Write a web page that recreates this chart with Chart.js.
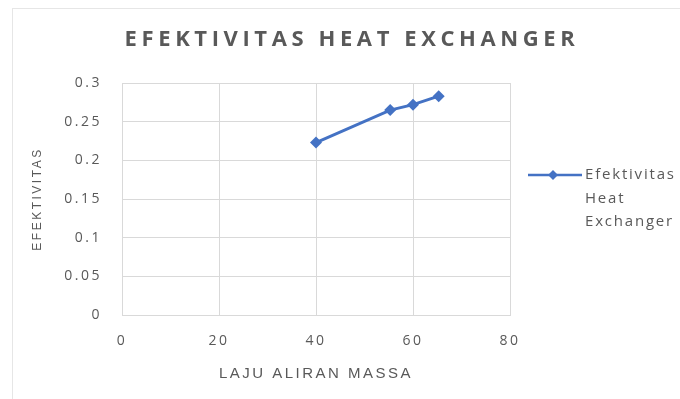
<!DOCTYPE html>
<html>
<head>
<meta charset="utf-8">
<script src="https://cdn.jsdelivr.net/npm/chart.js@4/dist/chart.umd.min.js"></script>
<style>
  html, body { margin: 0; padding: 0; background: #ffffff; }
  #wrap { width: 680px; height: 399px; position: relative; }
</style>
</head>
<body>
<div id="wrap"><canvas id="chart" width="680" height="399"></canvas></div>
<script>
// Mass flow rate vs. heat exchanger effectiveness
const chartTitle = 'EFEKTIVITAS HEAT EXCHANGER';
const seriesLabel = 'Efektivitas Heat Exchanger';
const xTitle = 'LAJU ALIRAN MASSA';
const yTitle = 'EFEKTIVITAS';

const massFlow = [40, 55.3, 60, 65.3];
const effectiveness = [0.223, 0.265, 0.272, 0.283];

const xTickLabels = ['0', '20', '40', '60', '80'];
const yTickLabels = ['0', '0.05', '0.1', '0.15', '0.2', '0.25', '0.3'];

const TEXT = '#595959';
const GRID = '#d9d9d9';
const LINE = '#4472C4';
const FONT = '"Open Sans", "Liberation Sans", sans-serif';

// Outer frame, spaced title and a wrapped legend entry on the right
const decorations = {
  id: 'decorations',
  beforeDraw(chart) {
    const ctx = chart.ctx;
    ctx.save();
    ctx.strokeStyle = '#e6e6e6';
    ctx.lineWidth = 1;
    ctx.strokeRect(12.5, 8.5, 720, 450);
    ctx.restore();
    // wide tracking for axis text
    if ('letterSpacing' in ctx) ctx.letterSpacing = '2.5px';
  },
  afterDraw(chart) {
    const ctx = chart.ctx;
    ctx.save();
    // title
    ctx.font = 'bold 22px ' + FONT;
    ctx.fillStyle = TEXT;
    ctx.textBaseline = 'middle';
    ctx.textAlign = 'center';
    if ('letterSpacing' in ctx) ctx.letterSpacing = '4.6px';
    ctx.fillText(chartTitle, 352, 40);

    // legend
    const ds = chart.data.datasets[0];
    const ly = 175;
    ctx.strokeStyle = ds.borderColor;
    ctx.lineWidth = 2.5;
    ctx.beginPath();
    ctx.moveTo(528, ly);
    ctx.lineTo(582, ly);
    ctx.stroke();
    ctx.fillStyle = ds.borderColor;
    ctx.beginPath();
    ctx.moveTo(553, ly - 5);
    ctx.lineTo(558, ly);
    ctx.lineTo(553, ly + 5);
    ctx.lineTo(548, ly);
    ctx.closePath();
    ctx.fill();
    ctx.font = '15px ' + FONT;
    ctx.fillStyle = TEXT;
    ctx.textAlign = 'left';
    ctx.textBaseline = 'middle';
    if ('letterSpacing' in ctx) ctx.letterSpacing = '1.8px';
    const words = ds.label.split(' ');
    words.forEach((w, i) => ctx.fillText(w, 585, ly + i * 23.5));
    ctx.restore();
  }
};

new Chart(document.getElementById('chart'), {
  type: 'scatter',
  data: {
    datasets: [{
      label: seriesLabel,
      data: massFlow.map((x, i) => ({ x: x, y: effectiveness[i] })),
      showLine: true,
      borderColor: LINE,
      backgroundColor: LINE,
      borderWidth: 3,
      pointStyle: 'rectRot',
      pointRadius: 6,
      pointHoverRadius: 6,
      pointBorderWidth: 0
    }]
  },
  options: {
    responsive: false,
    animation: false,
    devicePixelRatio: 1,
    layout: { padding: { top: 83, right: 170, bottom: 10, left: 14 } },
    plugins: {
      legend: { display: false },
      title: { display: false },
      tooltip: { enabled: false }
    },
    scales: {
      x: {
        type: 'linear',
        min: 0,
        max: 80,
        afterFit(scale) { scale.height = 74; },
        afterBuildTicks(scale) {
          scale.ticks = xTickLabels.map(v => ({ value: Number(v) }));
        },
        ticks: {
          color: TEXT,
          font: { family: FONT, size: 14 },
          padding: 18,
          maxRotation: 0,
          callback: (v, i) => xTickLabels[i]
        },
        grid: { color: GRID, lineWidth: 1, drawTicks: false },
        border: { color: GRID, width: 1 },
        title: {
          display: true,
          text: xTitle,
          color: TEXT,
          font: { family: '"Liberation Sans", sans-serif', size: 15 },
          padding: { top: 0, bottom: 6 }
        }
      },
      y: {
        type: 'linear',
        min: 0,
        max: 0.3,
        afterFit(scale) { scale.width = 108; },
        afterBuildTicks(scale) {
          scale.ticks = yTickLabels.map(v => ({ value: Number(v) }));
        },
        ticks: {
          color: TEXT,
          font: { family: FONT, size: 14 },
          padding: 20,
          callback: (v, i) => yTickLabels[i]
        },
        grid: { color: GRID, lineWidth: 1, drawTicks: false },
        border: { color: GRID, width: 1 },
        title: {
          display: true,
          text: yTitle,
          color: TEXT,
          font: { family: '"Liberation Sans", sans-serif', size: 12 },
          padding: { top: 16, bottom: 0 }
        }
      }
    }
  },
  plugins: [decorations]
});
</script>
</body>
</html>
